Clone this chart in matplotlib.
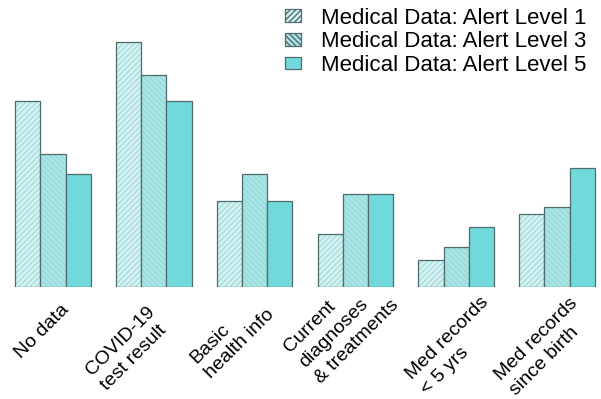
import numpy as np
import matplotlib.pyplot as plt
import matplotlib.transforms as mtransforms
from matplotlib.patches import Patch

plt.rcParams['font.family'] = ['Liberation Sans', 'DejaVu Sans']

categorias = ["No data", "COVID-19\ntest result", "Basic\nhealth info",
              "Current\ndiagnoses\n& treatments", "Med records\n< 5 yrs",
              "Med records\nsince birth"]
series = ["Medical Data: Alert Level 1", "Medical Data: Alert Level 3",
          "Medical Data: Alert Level 5"]
nivel1 = [28, 37, 13, 8, 4, 11]
nivel3 = [20, 32, 17, 14, 6, 12]
nivel5 = [17, 28, 13, 14, 9, 18]

cores = ['#d6f2f2', '#a9e5e5', '#71d9db']
hachuras = ['//////', '\\\\\\\\\\\\', None]
cor_hachura = ['#a8dddd', '#97dada', None]
borda = '#4f6b6b'

fig = plt.figure(figsize=(6.01, 3.99), dpi=100)
ax = fig.add_axes([0, 0.281, 1, 0.719])

x = np.arange(len(categorias))
width = 0.25
for k, valores in enumerate([nivel1, nivel3, nivel5]):
    pos = x + (k - 1) * width
    if hachuras[k]:
        ax.bar(pos, valores, width, color=cores[k], hatch=hachuras[k],
               edgecolor=cor_hachura[k], linewidth=0)
        ax.bar(pos, valores, width, fill=False, edgecolor=borda,
               linewidth=0.9, label=series[k])
    else:
        ax.bar(pos, valores, width, color=cores[k], edgecolor=borda,
               linewidth=0.9, label=series[k])

ax.set_xlim(-0.526, 5.437)
ax.set_ylim(0, 43.3)
for s in ax.spines.values():
    s.set_visible(False)
ax.set_yticks([])
ax.set_xticks(x)
ax.set_xticklabels(categorias, rotation=45, ha='right', rotation_mode='anchor',
                   multialignment='left', fontsize=14, linespacing=1.35)
ax.tick_params(axis='x', length=0, pad=0)

# ajuste fino da posicao de cada rotulo (pixels: direita, baixo)
ajustes = [(7, 14), (-8, 16), (-4, 4), (4, -21), (24, 7), (12, 8)]
for lbl, (dx, dy) in zip(ax.get_xticklabels(), ajustes):
    desloc = mtransforms.ScaledTranslation(dx / 100, -dy / 100, fig.dpi_scale_trans)
    lbl.set_transform(lbl.get_transform() + desloc)

# legenda com patches combinados (preenchimento + borda)
handles = []
for k in range(3):
    if hachuras[k]:
        handles.append(Patch(facecolor=cores[k], hatch=hachuras[k],
                             edgecolor=borda, linewidth=0.9))
    else:
        handles.append(Patch(facecolor=cores[k], edgecolor=borda, linewidth=0.9))
ax.legend(handles, series, loc='upper right', bbox_to_anchor=(0.998, 1.02),
          frameon=False, fontsize=16, handlelength=0.7, handleheight=0.5,
          labelspacing=0.12, handletextpad=0.9, borderaxespad=0.2)

fig.savefig('out.png', dpi=100)
